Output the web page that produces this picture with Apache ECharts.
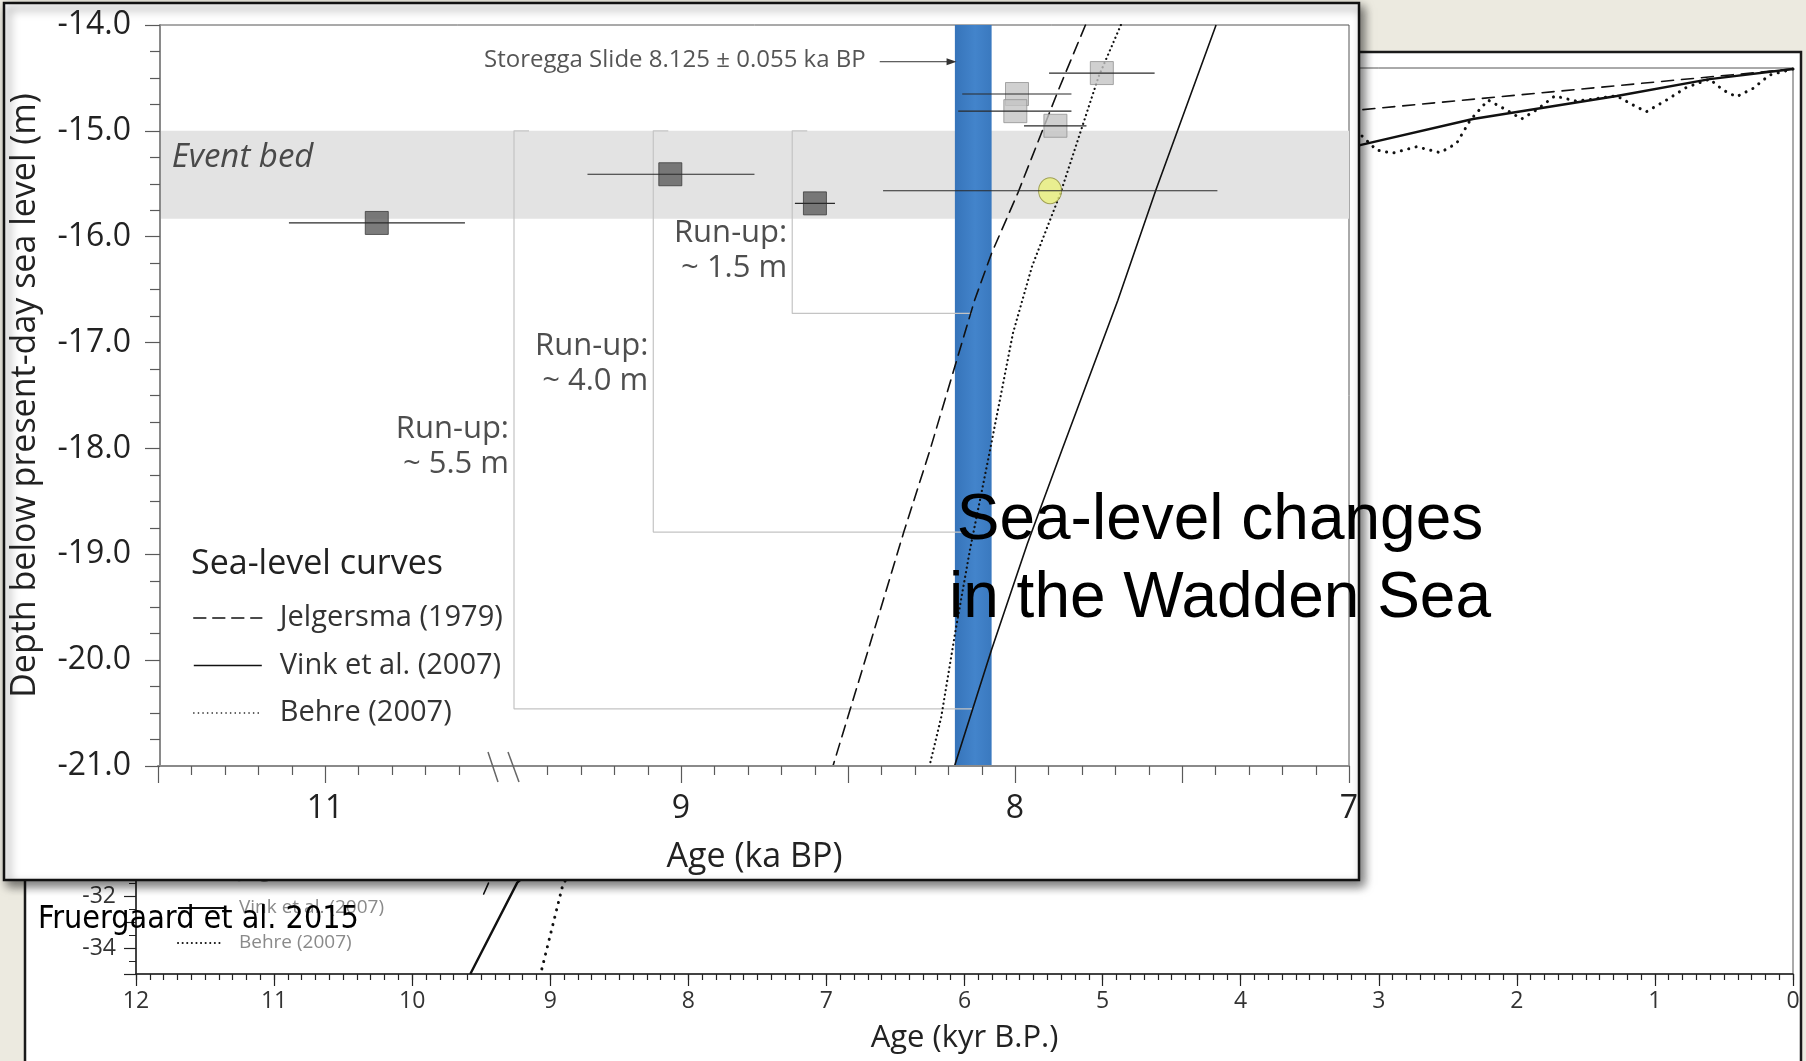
<!DOCTYPE html>
<html><head><meta charset="utf-8">
<script src="https://cdn.jsdelivr.net/npm/echarts@6/dist/echarts.min.js"></script>
<style>html,body{margin:0;padding:0;background:#ECEAE0;overflow:hidden}#c{width:1806px;height:1061px}</style>
</head><body><div id="c"></div>
<script>
// ================= DATA =================
// front chart (Age ka BP vs depth m), broken age axis 11.5-10.5 | 9.5-7.0
const depthMin = -21, depthMax = -14;
const leftAgeMin = 10.5, leftAgeMax = 11.5;
const rightAgeMin = 7.0, rightAgeMax = 9.5;
const ageTickInterval = 0.5;
const leftMinorTicks = [11.4, 11.3, 11.2, 11.1, 10.9, 10.8, 10.7, 10.6];
const leftMajorTicks = [11.5, 11.0];
const leftTickLabels = [11];
const rightMinorTicks = [9.4, 9.3, 9.2, 9.1, 8.9, 8.8, 8.7, 8.6, 8.4, 8.3, 8.2, 8.1, 7.9, 7.8, 7.7, 7.6, 7.4, 7.3, 7.2, 7.1];
const rightMajorTicks = [9.0, 8.5, 8.0, 7.5, 7.0];
const rightTickLabels = [9, 8, 7];

const eventBedTop = -15.0, eventBedBottom = -15.83;
const storeggaAge = 8.125, storeggaErr = 0.055;
const storeggaArrowFrom = 8.405, storeggaArrowTo = 8.19, storeggaDepth = -14.347;

const curveNames = ['Jelgersma (1979)', 'Vink et al. (2007)', 'Behre (2007)'];
const jelgersmaAge   = [7.789, 7.870, 7.992, 8.070, 8.121, 8.255, 8.333, 8.440, 8.545];
const jelgersmaDepth = [-14.0, -14.614, -15.591, -16.155, -16.60, -18.02, -18.79, -19.91, -21.0];
const vinkAge   = [7.398, 7.579, 7.692, 7.860, 7.963, 8.071, 8.181];
const vinkDepth = [-14.0, -15.566, -16.60, -18.02, -18.90, -19.91, -21.0];
const behreAge   = [7.683, 7.750, 7.864, 7.949, 8.006, 8.075, 8.135, 8.178, 8.221, 8.256];
const behreDepth = [-14.0, -14.49, -15.59, -16.28, -16.91, -18.02, -18.96, -19.72, -20.54, -21.0];

const darkAge   = [10.845, 9.032, 8.599];
const darkDepth = [-15.87, -15.41, -15.685];
const darkAgeLo = [10.581, 8.780, 8.539];
const darkAgeHi = [11.108, 9.280, 8.659];
const lightAge   = [7.740, 7.994, 7.999, 7.879];
const lightDepth = [-14.454, -14.652, -14.814, -14.952];
const lightAgeLo = [7.582, 7.831, 7.831, 7.786];
const lightAgeHi = [7.898, 8.158, 8.170, 7.973];
const yellowAge = [7.895], yellowDepth = [-15.566], yellowAgeLo = [7.394], yellowAgeHi = [8.395];

const runupAge    = [9.5, 9.083, 8.667];
const runupBottom = [-20.46, -18.79, -16.725];
const runupEnd    = [8.127, 8.153, 8.13];
const runupCap    = 0.045;
const runupLabelDepth = [-17.98, -17.197, -16.131];
const runupText   = ['Run-up:\n~ 5.5 m', 'Run-up:\n~ 4.0 m', 'Run-up:\n~ 1.5 m'];
const eventBedLabel = {age: 11.459, depth: -15.257, text: 'Event bed'};
const storeggaLabel = {age: 8.405, depth: -14.33, text: 'Storegga Slide 8.125 \u00b1 0.055 ka BP'};

// back chart (Age kyr B.P. 12-0 vs depth m)
const backAgeMin = 0, backAgeMax = 12, backDepthMin = -35, backDepthMax = 0;
const backJelgAge   = [0, 3.136, 9.446, 9.488];
const backJelgDepth = [-0.04, -1.62, -31.47, -31.98];
const backVinkAge   = [0, 0.603, 1.276, 2.318, 3.136, 9.239, 9.579];
const backVinkDepth = [-0.04, -0.43, -1.08, -1.97, -2.98, -31.47, -35.0];
const backBehreAge   = [0, 0.169, 0.290, 0.410, 0.507, 0.603, 0.772, 0.917, 1.062, 1.158, 1.279, 1.448, 1.568, 1.725, 1.858, 1.966, 2.075, 2.208, 2.337, 2.436, 2.556, 2.726, 2.900, 3.015, 3.140, 8.905, 9.070];
const backBehreDepth = [-0.04, -0.27, -0.79, -1.11, -0.85, -0.43, -0.75, -1.24, -1.69, -1.43, -1.07, -1.20, -1.28, -1.08, -1.62, -1.97, -1.62, -1.24, -2.01, -2.91, -3.27, -3.04, -3.29, -3.17, -2.53, -31.47, -35.0];

// ================= CHART =================
const FONT = "'Open Sans', 'Noto Sans', sans-serif";
const pairs = (xs, ys) => xs.map((x, i) => [x, ys[i]]);
const chart = echarts.init(document.getElementById('c'), null, {renderer: 'canvas', width: 1806, height: 1061});

const inLeft = a => a >= leftAgeMin;
function errData(ages, lo, hi, depth, left) {
  const out = [];
  ages.forEach((a, i) => { if (inLeft(a) === left) out.push([lo[i], hi[i], depth[i]]); });
  return out;
}
function ptData(ages, depth, left) {
  const out = [];
  ages.forEach((a, i) => { if (inLeft(a) === left) out.push([a, depth[i]]); });
  return out;
}
const errRender = (params, api) => {
  const p1 = api.coord([api.value(0), api.value(2)]);
  const p2 = api.coord([api.value(1), api.value(2)]);
  return {type: 'line', shape: {x1: p1[0], y1: p1[1], x2: p2[0], y2: p2[1]}, style: {stroke: '#2a2a2a', lineWidth: 1.2}};
};
const lineCurve = (name, data, xi, yi, type, width, zl) => ({
  type: 'line', name, data, xAxisIndex: xi, yAxisIndex: yi, symbol: 'none', zlevel: zl, z: 5,
  lineStyle: {color: '#111', width, type, cap: type === 'solid' ? 'butt' : 'round'},
  itemStyle: {color: '#111'}, silent: true, clip: true
});
const labelFmt = list => v => (list.indexOf(Math.round(v * 100) / 100) >= 0 ? String(Math.round(v)) : '');
// tick marks on the broken age axis, placed through the axis scale
const tickSeries = (xi, majors, minors) => ({
  type: 'custom', xAxisIndex: xi, yAxisIndex: xi, zlevel: 1, z: 9, silent: true, clip: false,
  encode: {x: 0},
  data: majors.map(v => [v, 17]).concat(minors.map(v => [v, 9])),
  renderItem: (p, api) => {
    const pt = api.coord([api.value(0), depthMin]);
    const x = Math.round(pt[0]) + 0.5, y = Math.round(pt[1]);
    return {type: 'line', shape: {x1: x, y1: y, x2: x, y2: y + api.value(1)},
      style: {stroke: '#5a5a5a', lineWidth: 1.2}};
  }
});

const series = [];
// event bed band
series.push({
  type: 'custom', xAxisIndex: 0, yAxisIndex: 0, zlevel: 1, z: 2, silent: true,
  data: [[eventBedTop, eventBedBottom]],
  renderItem: (p, api) => {
    const a = api.coord([0, api.value(0)]), b = api.coord([1, api.value(1)]);
    return {type: 'rect', shape: {x: a[0], y: a[1], width: b[0] - a[0], height: b[1] - a[1]}, style: {fill: '#e3e3e3'}};
  }
});
// Storegga blue bar
series.push({
  type: 'custom', xAxisIndex: 2, yAxisIndex: 2, zlevel: 1, z: 3, silent: true,
  data: [[storeggaAge + storeggaErr, storeggaAge - storeggaErr]],
  renderItem: (p, api) => {
    const a = api.coord([api.value(0), depthMax]), b = api.coord([api.value(1), depthMin]);
    return {type: 'rect', shape: {x: a[0], y: a[1], width: b[0] - a[0], height: b[1] - a[1]},
      style: {fill: new echarts.graphic.LinearGradient(0, 0, 1, 0, [
        {offset: 0, color: '#3674ba'}, {offset: 0.55, color: '#4384cb'}, {offset: 1, color: '#3a79bf'}])}};
  }
});
// run-up boxes
runupAge.forEach((a, i) => {
  series.push({
    type: 'line', xAxisIndex: 2, yAxisIndex: 2, zlevel: 1, z: 4, symbol: 'none', silent: true, clip: false,
    data: [[a - runupCap, eventBedTop], [a, eventBedTop], [a, runupBottom[i]], [runupEnd[i], runupBottom[i]]],
    lineStyle: {color: '#c4c4c4', width: 1.2}
  });
});
// Storegga arrow
series.push({
  type: 'line', xAxisIndex: 2, yAxisIndex: 2, zlevel: 1, z: 4, silent: true, clip: false,
  data: [{value: [storeggaArrowFrom, storeggaDepth], symbol: 'none'},
         {value: [storeggaArrowTo, storeggaDepth], symbol: 'triangle', symbolSize: [7, 10], symbolRotate: -90}],
  showAllSymbol: true, lineStyle: {color: '#333', width: 1}, itemStyle: {color: '#333'}
});
// front curves
series.push(lineCurve(curveNames[0], pairs(jelgersmaAge, jelgersmaDepth), 2, 2, [12, 7], 1.6, 1));
series.push(lineCurve(curveNames[1], pairs(vinkAge, vinkDepth), 2, 2, 'solid', 1.6, 1));
series.push(lineCurve(curveNames[2], pairs(behreAge, behreDepth), 2, 2, [0.1, 4.5], 2.2, 1));
// markers
const darkStyle = {color: '#5b5b5b', borderColor: '#3c3c3c', borderWidth: 1};
series.push({type: 'scatter', xAxisIndex: 1, yAxisIndex: 1, zlevel: 1, z: 6, symbol: 'rect', symbolSize: 23, silent: true,
  data: ptData(darkAge, darkDepth, true), itemStyle: darkStyle});
series.push({type: 'scatter', xAxisIndex: 2, yAxisIndex: 2, zlevel: 1, z: 6, symbol: 'rect', symbolSize: 23, silent: true,
  data: ptData(darkAge, darkDepth, false), itemStyle: darkStyle});
series.push({type: 'scatter', xAxisIndex: 2, yAxisIndex: 2, zlevel: 1, z: 6, symbol: 'rect', symbolSize: 23, silent: true,
  data: pairs(lightAge, lightDepth), itemStyle: {color: '#c4c4c4', borderColor: '#929292', borderWidth: 1}});
series.push({type: 'scatter', xAxisIndex: 2, yAxisIndex: 2, zlevel: 1, z: 6, symbol: 'circle', symbolSize: [23, 26], silent: true,
  data: pairs(yellowAge, yellowDepth), itemStyle: {color: '#eaf07a', borderColor: '#8f8f3c', borderWidth: 1}});
// error bars
series.push({type: 'custom', xAxisIndex: 1, yAxisIndex: 1, zlevel: 1, z: 7, silent: true, encode: {x: [0, 1], y: 2},
  data: errData(darkAge, darkAgeLo, darkAgeHi, darkDepth, true), renderItem: errRender});
series.push({type: 'custom', xAxisIndex: 2, yAxisIndex: 2, zlevel: 1, z: 7, silent: true, encode: {x: [0, 1], y: 2},
  data: errData(darkAge, darkAgeLo, darkAgeHi, darkDepth, false)
    .concat(errData(lightAge, lightAgeLo, lightAgeHi, lightDepth, false))
    .concat(errData(yellowAge, yellowAgeLo, yellowAgeHi, yellowDepth, false)), renderItem: errRender});
// annotations
const labelBase = {show: true, fontFamily: FONT, color: '#222', formatter: '{b}'};
series.push({
  type: 'scatter', xAxisIndex: 2, yAxisIndex: 2, zlevel: 1, z: 8, symbolSize: 0, silent: true, clip: false,
  data: runupAge.map((a, i) => ({name: runupText[i], value: [a, runupLabelDepth[i]],
      label: Object.assign({}, labelBase, {position: 'left', distance: 5, fontSize: 31, lineHeight: 35, align: 'right'})}))
    .concat([{name: storeggaLabel.text, value: [storeggaLabel.age, storeggaLabel.depth],
      label: Object.assign({}, labelBase, {position: 'left', distance: 14, fontSize: 24, color: '#2a2a2a'})}])
});
series.push({
  type: 'scatter', xAxisIndex: 1, yAxisIndex: 1, zlevel: 1, z: 8, symbolSize: 0, silent: true, clip: false,
  data: [{name: eventBedLabel.text, value: [eventBedLabel.age, eventBedLabel.depth],
    label: Object.assign({}, labelBase, {position: 'right', distance: 0, fontSize: 33, fontStyle: 'italic'})}]
});
// axis ticks of the broken age axis
series.push(tickSeries(1, leftMajorTicks, leftMinorTicks));
series.push(tickSeries(2, rightMajorTicks, rightMinorTicks));
// back chart curves
series.push(lineCurve(curveNames[0], pairs(backJelgAge, backJelgDepth), 3, 3, [12, 8], 1.6, 0));
series.push(lineCurve(curveNames[1], pairs(backVinkAge, backVinkDepth), 3, 3, 'solid', 2.4, 0));
series.push(lineCurve(curveNames[2], pairs(backBehreAge, backBehreDepth), 3, 3, [0.1, 7.5], 3, 0));

const frontAxisLine = {show: true, onZero: false, lineStyle: {color: '#8a8a8a', width: 2}};
const tickStyle = {color: '#5a5a5a', width: 1.2};
const frontAgeAxis = (grid, min, max, labels) => ({
  gridIndex: grid, type: 'value', min, max, interval: ageTickInterval, inverse: true, position: 'bottom', zlevel: 1, z: 8,
  axisLine: frontAxisLine, axisTick: {show: false},
  axisLabel: {show: true, formatter: labelFmt(labels), margin: 27, fontFamily: FONT, fontSize: 32, color: '#222', showMinLabel: true, showMaxLabel: true},
  splitLine: {show: false}
});
const option = {
  backgroundColor: '#ECEAE0',
  animation: false,
  textStyle: {fontFamily: FONT},
  title: [
    {text: 'Sea-level curves', left: 191, top: 544, padding: 0, zlevel: 1, z: 10,
      textStyle: {fontFamily: FONT, fontSize: 34, fontWeight: 'normal', color: '#222', lineHeight: 40}},
    {text: 'Sea-level changes\nin the Wadden Sea', left: 1220, top: 482, padding: 0, textAlign: 'center', zlevel: 2, z: 10,
      textStyle: {fontFamily: "'Liberation Sans', Arial, sans-serif", fontSize: 64, fontWeight: 'normal', color: '#000', lineHeight: 78}},
    {text: 'Fruergaard et al. 2015', left: 38, top: 901, padding: 0, zlevel: 2, z: 10,
      textStyle: {fontFamily: "'DejaVu Sans Condensed', 'DejaVu Sans', sans-serif", fontSize: 32, fontWeight: 'normal', color: '#000', lineHeight: 38}}
  ],
  legend: [
    {data: curveNames, orient: 'vertical', left: 188, top: 595, itemWidth: 68, itemHeight: 14, itemGap: 11.5,
      selectedMode: false, zlevel: 1, z: 10, lineStyle: {width: 1.6}, itemStyle: {opacity: 0},
      textStyle: {fontFamily: FONT, fontSize: 29, color: '#333', lineHeight: 36, padding: [0, 0, 0, 13]}},
    {data: curveNames, orient: 'vertical', left: 172, top: 856, itemWidth: 46, itemHeight: 10, itemGap: 11,
      selectedMode: false, zlevel: 0, z: 3, lineStyle: {width: 2}, itemStyle: {opacity: 0},
      textStyle: {fontFamily: FONT, fontSize: 19, color: '#8a8a8a', lineHeight: 24, padding: [0, 0, 0, 10]}}
  ],
  grid: [
    {left: 158, top: 25, width: 1191, height: 741, show: true, borderColor: '#555', borderWidth: 1, backgroundColor: 'rgba(0,0,0,0)', zlevel: 1, z: 1},
    {left: 158, top: 25, width: 334, height: 741, zlevel: 1},
    {left: 514, top: 25, width: 835, height: 741, zlevel: 1},
    {left: 136, top: 68, width: 1657, height: 906, show: true, borderColor: '#555', borderWidth: 1, backgroundColor: 'rgba(0,0,0,0)', zlevel: 0, z: 1}
  ],
  xAxis: [
    {gridIndex: 0, type: 'value', min: 0, max: 1, zlevel: 1, z: 8,
      axisLine: {show: false, onZero: false}, axisTick: {show: false}, axisLabel: {show: false}, splitLine: {show: false},
      name: 'Age (ka BP)', nameLocation: 'middle', nameGap: 74,
      nameTextStyle: {fontFamily: FONT, fontSize: 34, color: '#222'}},
    frontAgeAxis(1, leftAgeMin, leftAgeMax, leftTickLabels),
    frontAgeAxis(2, rightAgeMin, rightAgeMax, rightTickLabels),
    {gridIndex: 3, type: 'value', min: backAgeMin, max: backAgeMax, interval: 1, inverse: true, zlevel: 0, z: 4,
      axisLine: {show: true, onZero: false, lineStyle: {color: '#222', width: 1.5}},
      axisTick: {show: true, length: 12, lineStyle: {color: '#222', width: 1.2}},
      axisLabel: {margin: 16, fontFamily: FONT, fontSize: 23, color: '#333'}, splitLine: {show: false},
      name: 'Age (kyr B.P.)', nameLocation: 'middle', nameGap: 49,
      nameTextStyle: {fontFamily: FONT, fontSize: 31, color: '#222'}},
    {gridIndex: 3, type: 'value', min: backAgeMin, max: backAgeMax, interval: 0.1, inverse: true, position: 'bottom', zlevel: 0, z: 9,
      axisLine: {show: false, onZero: false}, axisTick: {show: true, length: 6, lineStyle: {color: '#222', width: 1.2}},
      axisLabel: {show: false}, splitLine: {show: false}}
  ],
  yAxis: [
    {gridIndex: 0, type: 'value', min: depthMin, max: depthMax, interval: 1, zlevel: 1, z: 8,
      axisLine: frontAxisLine, axisTick: {show: true, length: 15, lineStyle: tickStyle},
      minorTick: {show: true, splitNumber: 4, length: 10, lineStyle: tickStyle},
      axisLabel: {formatter: v => v.toFixed(1), margin: 29, fontFamily: FONT, fontSize: 32, color: '#222'},
      splitLine: {show: false}, minorSplitLine: {show: false},
      name: 'Depth below present-day sea level (m)', nameLocation: 'middle', nameGap: 118, nameRotate: 90,
      nameTextStyle: {fontFamily: FONT, fontSize: 34, color: '#222'}},
    {gridIndex: 1, type: 'value', min: depthMin, max: depthMax, show: false},
    {gridIndex: 2, type: 'value', min: depthMin, max: depthMax, show: false},
    {gridIndex: 3, type: 'value', min: backDepthMin, max: backDepthMax, interval: 1, zlevel: 0, z: 4,
      axisLine: {show: true, onZero: false, lineStyle: {color: '#222', width: 1.5}},
      axisTick: {show: true, length: 12, lineStyle: {color: '#222', width: 1.2}},
      minorTick: {show: true, splitNumber: 2, length: 7, lineStyle: {color: '#222', width: 1}},
      axisLabel: {formatter: v => (v % 2 === 0 ? String(v) : ''), margin: 20, fontFamily: FONT, fontSize: 23, color: '#333'},
      splitLine: {show: false}}
  ],
  graphic: {elements: [
    {type: 'rect', zlevel: 0, z: -5, silent: true, shape: {x: 25, y: 52, width: 1776, height: 1040},
      style: {fill: '#ffffff', stroke: '#1a1a1a', lineWidth: 2.5}},
    {type: 'rect', zlevel: 1, z: -5, silent: true, shape: {x: 4, y: 3, width: 1355, height: 877},
      style: {fill: '#ffffff', stroke: '#111', lineWidth: 2.5, shadowBlur: 10, shadowOffsetX: 4, shadowOffsetY: 5, shadowColor: 'rgba(0,0,0,0.55)'}},
    {type: 'line', zlevel: 1, z: 20, silent: true, shape: {x1: 492, y1: 766, x2: 514, y2: 766}, style: {stroke: '#8a8a8a', lineWidth: 2}},
    {type: 'line', zlevel: 1, z: 20, silent: true, shape: {x1: 488, y1: 752, x2: 498, y2: 782}, style: {stroke: '#666', lineWidth: 1.5}},
    {type: 'line', zlevel: 1, z: 20, silent: true, shape: {x1: 508, y1: 752, x2: 519, y2: 782}, style: {stroke: '#666', lineWidth: 1.5}}
  ]},
  series
};
chart.setOption(option);
</script></body></html>
